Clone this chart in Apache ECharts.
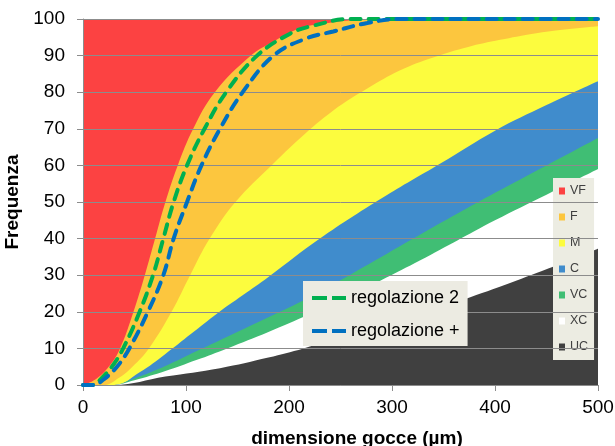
<!DOCTYPE html>
<html><head><meta charset="utf-8">
<script src="https://cdn.jsdelivr.net/npm/echarts@6.0.0/dist/echarts.min.js"></script>
<style>html,body{margin:0;padding:0;background:#fff}#c{width:615px;height:446px}</style>
</head><body><div id="c"></div>
<script>
// ---- data (cumulative frequency, %) ----
const classNames = ['VF', 'F', 'M', 'C', 'VC', 'XC', 'UC'];
const lineNames = ['regolazione 2', 'regolazione +'];
const xTicks = [0, 100, 200, 300, 400, 500];
const yTicks = [0, 10, 20, 30, 40, 50, 60, 70, 80, 90, 100];

// top of VF band (whole area)
const xVF = [0, 500];
const yVF = [100, 100];
// VF / F boundary
const xF = [0, 12, 25, 36, 49, 60, 70, 80, 92, 107, 128, 163, 182, 211, 240, 265, 290, 500];
const yF = [0, 1.5, 5, 10, 20, 30, 40, 50, 60, 70, 80, 90, 93.4, 97.5, 99, 99.7, 100, 100];
// F / M boundary
const xM = [0, 20, 35, 48, 64, 86, 104, 123, 148, 183, 211, 243, 276, 308, 340, 373, 405, 437, 470, 500];
const yM = [0, 0, 2, 5, 10, 20, 30, 40, 50, 60, 67.5, 75, 81, 86, 89.5, 92.3, 94.3, 96, 97.2, 98];
// M / C boundary
const xC = [0, 30, 55, 80, 105, 130, 155, 180, 230, 290, 347, 400, 450, 500];
const yC = [0, 0, 3.5, 8.5, 14, 19.5, 24.5, 29.5, 40, 51, 60.5, 69.5, 76.5, 83];
// C / VC boundary
const xVC = [0, 28, 50, 80, 110, 140, 180, 220, 262, 330, 400, 450, 500];
const yVC = [0, 0, 1.8, 5.2, 9.2, 13.2, 18.5, 24, 30.5, 41.5, 52.5, 60, 67.5];
// VC / XC boundary
const xXC = [0, 28, 50, 80, 110, 140, 180, 220, 262, 327, 400, 450, 500];
const yXC = [0, 0, 1.3, 3.8, 6.8, 10, 14.5, 19.3, 24.8, 34, 45, 52, 59];
// XC / UC boundary
const xUC = [0, 30, 80, 133, 180, 214, 300, 376, 457, 500];
const yUC = [0, 0, 2.3, 4.6, 7.5, 10, 17, 24, 32.4, 37.2];

// measured curves
const xReg2 = [0, 10, 15, 28, 39, 55, 68, 78, 88, 101, 118, 139, 169, 201, 221, 260, 500];
const yReg2 = [0, 0, 1, 5, 10, 20, 30, 40, 50, 60, 70, 80, 90, 96, 98, 100, 100];
const xRegP = [0, 10, 20, 33, 45, 63, 78, 88, 101, 115, 133, 155, 185, 215, 243, 276, 308, 500];
const yRegP = [0, 0, 1.5, 5, 10, 20, 30, 40, 50, 60, 70, 80, 90, 94.5, 96.6, 98.9, 100, 100];

// ---- styles ----
const bandColors = {VF: '#fc4242', F: '#fcc63e', M: '#fcfc3e', C: '#408ccc', VC: '#40be74', XC: '#ffffff', UC: '#404040'};
const lineColors = {'regolazione 2': '#00b050', 'regolazione +': '#0070c0'};
const FONT = '"Liberation Sans", Arial, sans-serif';

function pairs(xs, ys) { return xs.map((x, i) => [x, ys[i]]); }

const bandData = {
  VF: pairs(xVF, yVF), F: pairs(xF, yF), M: pairs(xM, yM), C: pairs(xC, yC),
  VC: pairs(xVC, yVC), XC: pairs(xXC, yXC), UC: pairs(xUC, yUC)
};
const lineData = {'regolazione 2': pairs(xReg2, yReg2), 'regolazione +': pairs(xRegP, yRegP)};

const series = [];
classNames.forEach(n => {
  series.push({
    type: 'line', name: n, data: bandData[n], smooth: 0.4, symbol: 'none',
    color: bandColors[n], itemStyle: {color: bandColors[n]},
    lineStyle: {width: 0}, areaStyle: {color: bandColors[n], opacity: 1},
    z: 1, silent: true
  });
});
lineNames.forEach(n => {
  series.push({
    type: 'line', name: n, data: lineData[n], smooth: 0.4, symbol: 'none',
    color: lineColors[n], clip: false,
    lineStyle: {width: 4, color: lineColors[n], type: [10, 8], cap: 'round'},
    z: 4, silent: true
  });
});

const axisGray = '#8c8c8c';
const chart = echarts.init(document.getElementById('c'));
chart.setOption({
  animation: false,
  backgroundColor: '#ffffff',
  grid: {left: 83, right: 17, top: 19, bottom: 61, containLabel: false, outerBoundsMode: 'none'},
  xAxis: {
    type: 'value', min: xTicks[0], max: xTicks[xTicks.length - 1], interval: 100, z: 3,
    axisLine: {show: true, lineStyle: {color: axisGray}},
    axisTick: {show: true, length: 6, lineStyle: {color: axisGray}},
    splitLine: {show: false},
    axisLabel: {fontSize: 19, color: '#000', margin: 13, fontFamily: FONT},
    name: 'dimensione gocce (µm)', nameLocation: 'middle', nameGap: 44,
    nameTextStyle: {fontSize: 19, fontWeight: 'bold', color: '#000', fontFamily: FONT, padding: [0, 0, 0, 33]}
  },
  yAxis: {
    type: 'value', min: yTicks[0], max: yTicks[yTicks.length - 1], interval: 10, z: 3,
    axisLine: {show: true, lineStyle: {color: axisGray}},
    axisTick: {show: true, length: 6, lineStyle: {color: axisGray}},
    splitLine: {show: true, lineStyle: {color: axisGray, width: 1}},
    axisLabel: {fontSize: 19, color: '#000', margin: 18, fontFamily: FONT},
    name: 'Frequenza', nameLocation: 'middle', nameGap: 54,
    nameTextStyle: {fontSize: 19, fontWeight: 'bold', color: '#000', fontFamily: FONT}
  },
  legend: [
    {
      z: 2, orient: 'vertical', left: 553, top: 178, data: classNames, icon: 'rect',
      itemWidth: 6, itemHeight: 7, itemGap: 12, padding: [6, 6, 6, 6],
      backgroundColor: '#ecece2', selectedMode: false,
      textStyle: {fontFamily: FONT, fontSize: 12.5, lineHeight: 14, color: '#404040'}
    },
    {
      z: 5, orient: 'vertical', left: 303, top: 281, data: lineNames,
      itemWidth: 34, itemHeight: 14, itemGap: 13, padding: [7, 8, 5, 7],
      backgroundColor: '#ecebe2', selectedMode: false,
      itemStyle: {opacity: 0, color: 'rgba(0,0,0,0)', borderWidth: 0},
      lineStyle: {width: 4, type: [15, 5], cap: 'butt'},
      textStyle: {fontFamily: FONT, fontSize: 18, lineHeight: 20, color: '#000'}
    }
  ],
  series: series
});
</script></body></html>
